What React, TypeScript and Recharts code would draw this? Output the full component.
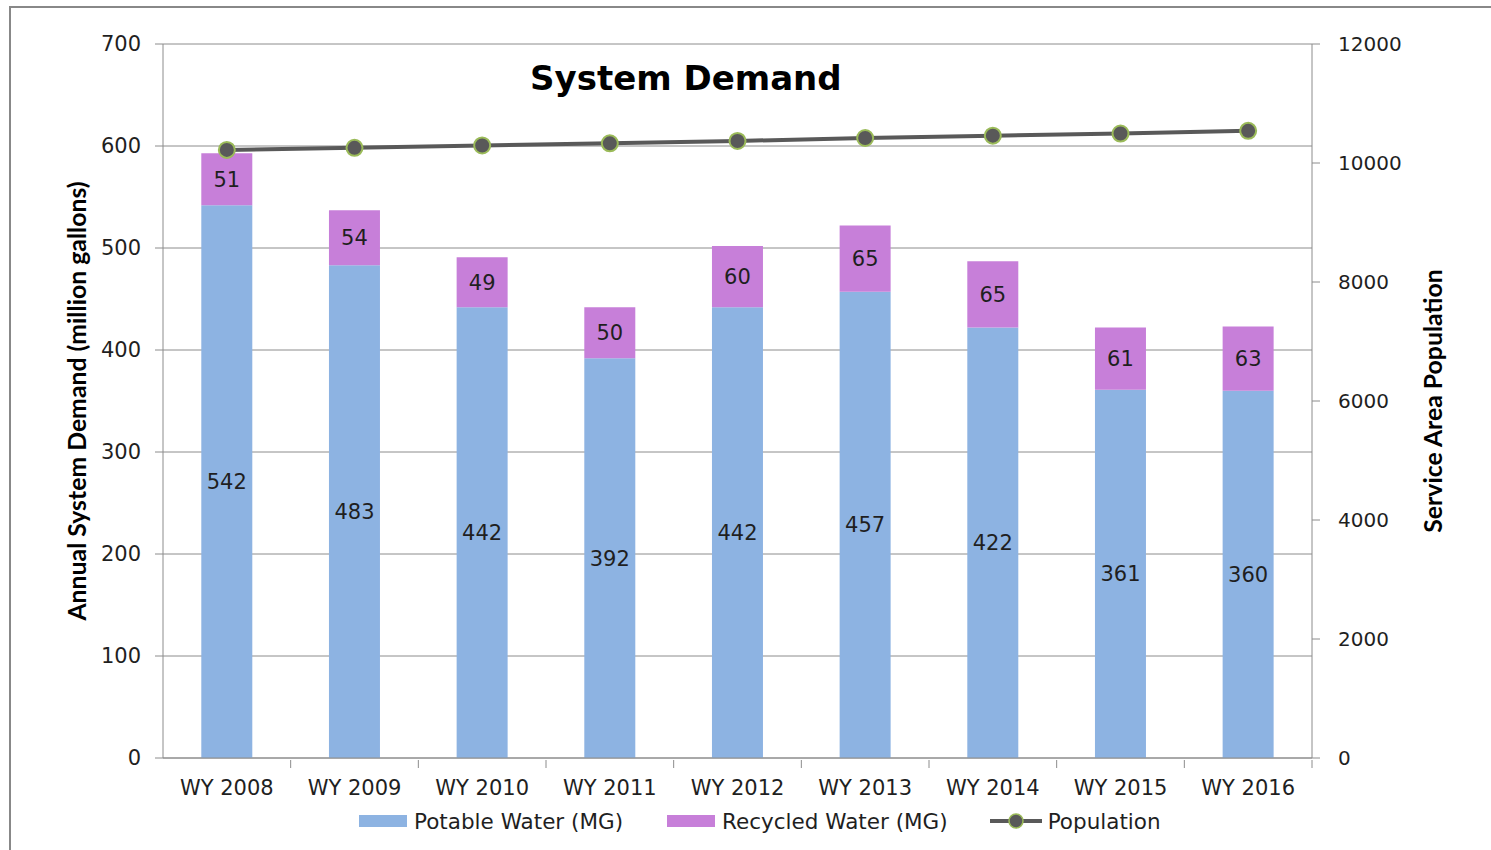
import {
  Bar,
  CartesianGrid,
  ComposedChart,
  LabelList,
  Legend,
  Line,
  XAxis,
  YAxis,
} from "recharts";

// Water year categories and demand series (million gallons).
const YEARS = ["WY 2008", "WY 2009", "WY 2010", "WY 2011", "WY 2012", "WY 2013", "WY 2014", "WY 2015", "WY 2016"];
const POTABLE = [542, 483, 442, 392, 442, 457, 422, 361, 360];
const RECYCLED = [51, 54, 49, 50, 60, 65, 65, 61, 63];
const POPULATION = [10220, 10255, 10295, 10330, 10370, 10420, 10460, 10495, 10540];

const LEFT_TICKS = [0, 100, 200, 300, 400, 500, 600, 700];
const RIGHT_TICKS = [0, 2000, 4000, 6000, 8000, 10000, 12000];

const data = YEARS.map((x, i) => ({
  x,
  potable: POTABLE[i],
  recycled: RECYCLED[i],
  population: POPULATION[i],
}));

const W = 1491;
const H = 850;
const LEFT_W = 163;
const RIGHT_W = 179;
const HALF_BAND = (W - LEFT_W - RIGHT_W) / YEARS.length / 2;

const POTABLE_COLOR = "#8db3e2";
const RECYCLED_COLOR = "#c77fd9";
const LINE_COLOR = "#595959";
const DOT_RING = "#9bbb59";
const AXIS_COLOR = "#8c8c8c";
const INK = "#1f1f1f";
const TICK_FONT = "'DejaVu Sans', Verdana, sans-serif";
const TITLE_FONT = "Lato, 'Open Sans', sans-serif";

function CategoryTick(props: any) {
  const { x, y, payload } = props;
  return (
    <g>
      <line x1={x + HALF_BAND} x2={x + HALF_BAND} y1={y} y2={y + 8} stroke={AXIS_COLOR} />
      <text x={x} y={y + 35} textAnchor="middle" fontSize={21} fontFamily={TICK_FONT} fill={INK}>
        {payload.value}
      </text>
    </g>
  );
}

function AxisTitle(props: any) {
  const { viewBox, title, shiftX } = props;
  const cx = viewBox.x + shiftX;
  const cy = viewBox.y + viewBox.height / 2;
  return (
    <g transform={`translate(${cx} ${cy}) rotate(-90)`}>
      <text
        x={0}
        y={0}
        textAnchor="middle"
        dominantBaseline="central"
        fontSize={24.8}
        fontWeight={700}
        fontFamily={TITLE_FONT}
        fill="#000"
      >
        {title}
      </text>
    </g>
  );
}

function LegendContent() {
  const item = { display: "flex", alignItems: "center" } as const;
  const swatch = (c: string) => ({ width: 48, height: 12, background: c, marginRight: 7 });
  return (
    <div
      style={{
        height: 34,
        display: "flex",
        alignItems: "center",
        paddingLeft: 359,
        fontFamily: TICK_FONT,
        fontSize: 21.5,
        color: INK,
      }}
    >
      <div style={{ ...item, marginRight: 44 }}>
        <div style={swatch(POTABLE_COLOR)} />
        <span>Potable Water (MG)</span>
      </div>
      <div style={{ ...item, marginRight: 42 }}>
        <div style={swatch(RECYCLED_COLOR)} />
        <span>Recycled Water (MG)</span>
      </div>
      <div style={item}>
        <svg width={52} height={20} style={{ marginRight: 6 }}>
          <line x1={0} x2={52} y1={10} y2={10} stroke={LINE_COLOR} strokeWidth={4} />
          <circle cx={26} cy={10} r={7} fill={LINE_COLOR} stroke={DOT_RING} strokeWidth={1.5} />
        </svg>
        <span>Population</span>
      </div>
    </div>
  );
}

export default function App() {
  return (
    <div style={{ position: "absolute", left: 0, top: 0, width: W, height: H, background: "#fff", overflow: "hidden" }}>
      <div
        style={{
          position: "absolute",
          left: 9,
          top: 6,
          width: W,
          height: H,
          borderLeft: "2px solid #888",
          borderTop: "2px solid #888",
        }}
      />
      <div
        style={{
          position: "absolute",
          left: 530,
          top: 58,
          fontFamily: TICK_FONT,
          fontWeight: 700,
          fontSize: 34,
          lineHeight: "40px",
          color: "#000",
          zIndex: 2,
        }}
      >
        System Demand
      </div>
      <ComposedChart
        width={W}
        height={H}
        data={data}
        margin={{ top: 44, right: 0, bottom: 12, left: 0 }}
        barCategoryGap="30%"
      >
        <CartesianGrid stroke={AXIS_COLOR} vertical={false} yAxisId="left" />
        <XAxis
          dataKey="x"
          height={46}
          tickLine={false}
          tickSize={0}
          stroke={AXIS_COLOR}
          tick={<CategoryTick />}
          interval={0}
        />
        <YAxis
          yAxisId="left"
          width={LEFT_W}
          domain={[0, 700]}
          ticks={LEFT_TICKS}
          tickSize={8}
          tickMargin={14}
          stroke={AXIS_COLOR}
          tick={{ fontSize: 21, fontFamily: TICK_FONT, fill: INK }}
          label={<AxisTitle title="Annual System Demand (million gallons)" shiftX={76} />}
        />
        <YAxis
          yAxisId="right"
          orientation="right"
          width={RIGHT_W}
          domain={[0, 12000]}
          ticks={RIGHT_TICKS}
          tickSize={8}
          tickMargin={18}
          stroke={AXIS_COLOR}
          tick={{ fontSize: 20, fontFamily: TICK_FONT, fill: INK, textAnchor: "start" }}
          label={<AxisTitle title="Service Area Population" shiftX={120} />}
        />
        <Legend verticalAlign="bottom" content={<LegendContent />} wrapperStyle={{ left: 0, width: W }} />
        <Bar
          yAxisId="left"
          dataKey="potable"
          name="Potable Water (MG)"
          stackId="demand"
          fill={POTABLE_COLOR}
          isAnimationActive={false}
        >
          <LabelList dataKey="potable" position="center" fontSize={21} fontFamily={TICK_FONT} fill={INK} />
        </Bar>
        <Bar
          yAxisId="left"
          dataKey="recycled"
          name="Recycled Water (MG)"
          stackId="demand"
          fill={RECYCLED_COLOR}
          isAnimationActive={false}
        >
          <LabelList dataKey="recycled" position="center" fontSize={21} fontFamily={TICK_FONT} fill={INK} />
        </Bar>
        <Line
          yAxisId="right"
          dataKey="population"
          name="Population"
          stroke={LINE_COLOR}
          strokeWidth={4}
          dot={{ r: 8, fill: LINE_COLOR, stroke: DOT_RING, strokeWidth: 2 }}
          isAnimationActive={false}
        />
      </ComposedChart>
    </div>
  );
}
